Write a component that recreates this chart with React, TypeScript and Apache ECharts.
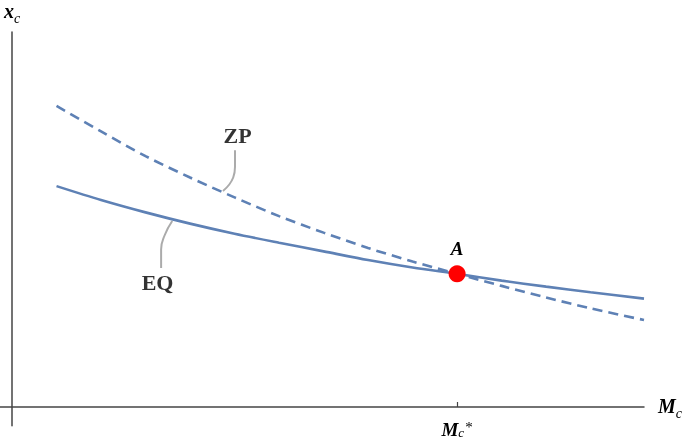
import React, { useEffect, useRef } from "react";
import * as echarts from "echarts";

// M_c values (x axis) sampled along both curves
const mcValues = [0.1, 0.2, 0.3, 0.4, 0.5, 0.6, 0.7, 0.8, 0.9, 1.0, 1.1, 1.2, 1.3, 1.42];
// EQ curve (solid)
const eqValues = [0.589, 0.552, 0.519, 0.489, 0.462, 0.438, 0.415, 0.392, 0.372, 0.355, 0.337, 0.321, 0.306, 0.289];
// ZP curve (dashed)
const zpValues = [0.803, 0.735, 0.669, 0.612, 0.559, 0.509, 0.465, 0.424, 0.388, 0.355, 0.323, 0.292, 0.263, 0.232];
// equilibrium point A
const pointA = [1.0, 0.355];
// x-axis tick (M_c*)
const xTickValues = [1];
// curve labels and their callout leaders (data coordinates)
const curveLabels = [
  { name: "ZP", value: [0.507, 0.725] },
  { name: "EQ", value: [0.327, 0.333] },
];
const zpLeader = [[0.501, 0.685], [0.501, 0.64], [0.497, 0.612], [0.474, 0.576]];
const eqLeader = [[0.36, 0.496], [0.343, 0.458], [0.335, 0.42], [0.335, 0.371]];

const SERIF = "'Liberation Serif', 'Times New Roman', serif";
const BLUE = "#5E81B5";

const richMath = {
  m: { fontFamily: SERIF, fontStyle: "italic", fontWeight: "bold", fontSize: 20, lineHeight: 22, verticalAlign: "top", color: "#000" },
  s: { fontFamily: SERIF, fontStyle: "italic", fontSize: 14, lineHeight: 14, padding: [10, 0, 0, 0], verticalAlign: "top", color: "#000" },
  a: { fontFamily: SERIF, fontSize: 16, lineHeight: 16, padding: [0, 0, 0, 1], verticalAlign: "top", color: "#000" },
};
const richTick = {
  m: { fontFamily: SERIF, fontStyle: "italic", fontWeight: "bold", fontSize: 19, lineHeight: 18, verticalAlign: "top", color: "#000" },
  s: { fontFamily: SERIF, fontStyle: "italic", fontSize: 13, lineHeight: 11, padding: [6, 0, 0, 0], verticalAlign: "top", color: "#000" },
  a: { fontFamily: SERIF, fontSize: 15, lineHeight: 13, padding: [0, 0, 0, 1], verticalAlign: "top", color: "#000" },
};

export default function App() {
  const ref = useRef<HTMLDivElement>(null);
  useEffect(() => {
    if (!ref.current) return;
    const chart = echarts.init(ref.current, null, { renderer: "svg" });
    const axisLine = { onZero: true, lineStyle: { color: "#444", width: 1.5 } };
    chart.setOption({
      animation: false,
      grid: { left: 0, right: 41, top: 32, bottom: 14.25, containLabel: false, outerBoundsMode: "none" },
      xAxis: {
        type: "value",
        min: -0.027,
        max: 1.42,
        axisLine,
        splitLine: { show: false },
        axisTick: { show: true, inside: true, length: 5, customValues: xTickValues, lineStyle: { color: "#444", width: 1.2 } },
        axisLabel: { show: true, customValues: xTickValues, margin: -6, formatter: () => "{m|M}{s|c}{a|*}", rich: richTick },
        name: "{m|M}{s|c}",
        nameLocation: "end",
        nameGap: 14,
        nameTextStyle: { rich: richMath },
      },
      yAxis: {
        type: "value",
        min: -0.05,
        max: 1.0,
        axisLine,
        splitLine: { show: false },
        axisTick: { show: false },
        axisLabel: { show: false },
        name: "{m|x}{s|c}",
        nameLocation: "end",
        nameGap: 9,
        nameTextStyle: { rich: richMath },
      },
      series: [
        {
          type: "line",
          name: "EQ",
          data: mcValues.map((x, i) => [x, eqValues[i]]),
          smooth: 0.3,
          showSymbol: false,
          silent: true,
          lineStyle: { color: BLUE, width: 2.6 },
        },
        {
          type: "line",
          name: "ZP",
          data: mcValues.map((x, i) => [x, zpValues[i]]),
          smooth: 0.3,
          showSymbol: false,
          silent: true,
          lineStyle: { color: BLUE, width: 2.6, type: [10, 6] },
        },
        {
          type: "line",
          data: zpLeader,
          smooth: 0.5,
          showSymbol: false,
          silent: true,
          lineStyle: { color: "#ABABAB", width: 2 },
        },
        {
          type: "line",
          data: eqLeader,
          smooth: 0.5,
          showSymbol: false,
          silent: true,
          lineStyle: { color: "#ABABAB", width: 2 },
        },
        {
          type: "scatter",
          data: curveLabels,
          symbolSize: 0,
          silent: true,
          label: {
            show: true,
            position: "inside",
            formatter: "{b}",
            fontFamily: SERIF,
            fontWeight: "bold",
            fontSize: 22,
            color: "#000",
            textBorderWidth: 0,
          },
        },
        {
          type: "scatter",
          data: [pointA],
          symbolSize: 17,
          silent: true,
          itemStyle: { color: "#FF0000", opacity: 1 },
          z: 5,
          label: {
            show: true,
            position: "top",
            distance: 7,
            formatter: "A",
            fontFamily: SERIF,
            fontStyle: "italic",
            fontWeight: "bold",
            fontSize: 19,
            color: "#000",
          },
        },
      ],
    });
    return () => chart.dispose();
  }, []);
  return <div ref={ref} style={{ position: "fixed", left: 0, top: 0, width: 685, height: 440 }} />;
}
